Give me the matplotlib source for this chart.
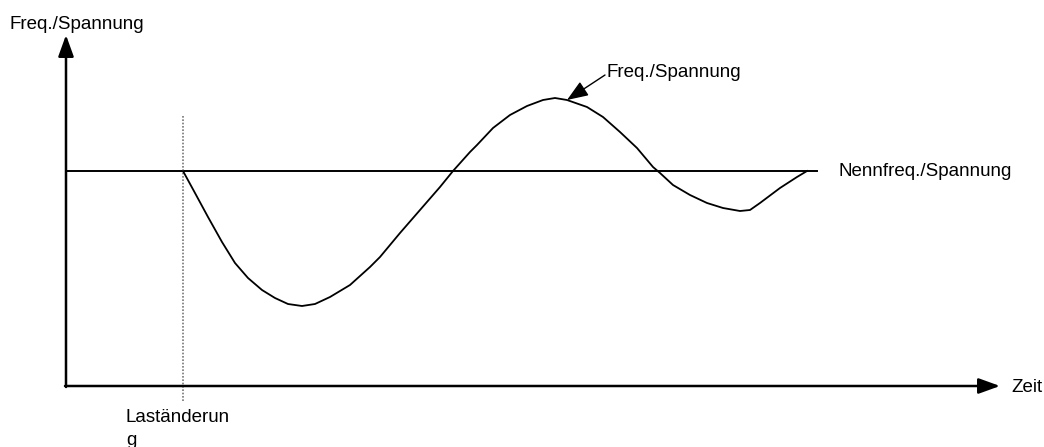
import matplotlib
matplotlib.use("Agg")
from matplotlib import pyplot as plt

plt.rcParams['font.family'] = ['Liberation Sans', 'DejaVu Sans']

# schematic curve: time vs. freq./voltage (arbitrary units, origin at axis crossing)
zeit = [117, 129, 142, 156, 169, 182, 196, 209, 222, 236, 249, 264, 284,
        304, 314, 334, 354, 374, 387, 404, 411, 427, 444, 461, 477, 489,
        501, 521, 537, 554, 571, 587, 594, 607, 624, 641, 657, 674, 684,
        694, 714, 731, 741]
freq = [215, 193, 169, 144, 123, 108, 96, 88, 82, 80, 82, 89, 101,
        119, 129, 153, 176, 199, 215, 234, 241, 258, 271, 280, 286, 288,
        286, 279, 269, 254, 238, 219, 213, 201, 191, 183, 178, 175, 176,
        183, 198, 209, 215]

nenn = 215          # nominal level
t_last = 117        # load change
t_end_nenn = 751
peak_t, peak_f = 501, 286

fs = 13.5
fig = plt.figure(figsize=(10.44, 4.47), dpi=100)
ax = fig.add_axes([0, 0, 1, 1])
ax.set_xlim(-66, 978)
ax.set_ylim(-61, 386)
ax.axis('off')

# axes with arrows
ax.annotate('', xy=(0, 351), xytext=(0, -1),
            arrowprops=dict(arrowstyle='-|>,head_length=1.3,head_width=0.47',
                            mutation_scale=10, lw=1.8, color='black',
                            shrinkA=0, shrinkB=0))
ax.annotate('', xy=(934, 0), xytext=(-1, 0),
            arrowprops=dict(arrowstyle='-|>,head_length=1.3,head_width=0.47',
                            mutation_scale=10, lw=1.8, color='black',
                            shrinkA=0, shrinkB=0))

# nominal line
ax.plot([0, t_end_nenn], [nenn, nenn], color='black', lw=1.4)

# load change marker
ax.plot([t_last, t_last], [270, -15], color='#777777', lw=1.2, ls=(0, (1, 1)))

# curve
ax.plot(zeit, freq, color='black', lw=1.3)

# peak annotation
ax.annotate('', xy=(peak_t, peak_f), xytext=(539, 311),
            arrowprops=dict(arrowstyle='-|>,head_length=1.3,head_width=0.5',
                            mutation_scale=10, lw=1, color='black',
                            shrinkA=0, shrinkB=0))

ax.text(-56, 357, 'Freq./Spannung', fontsize=fs, va='baseline', ha='left')
ax.text(540, 309, 'Freq./Spannung', fontsize=fs, va='baseline', ha='left')
ax.text(772, 210, 'Nennfreq./Spannung', fontsize=fs, va='baseline', ha='left')
ax.text(945, -6, 'Zeit', fontsize=fs, va='baseline', ha='left')
ax.text(60, -36, 'Laständerun', fontsize=fs, va='baseline', ha='left')
ax.text(60, -59, 'g', fontsize=fs, va='baseline', ha='left')

plt.savefig('out.png', dpi=100)
